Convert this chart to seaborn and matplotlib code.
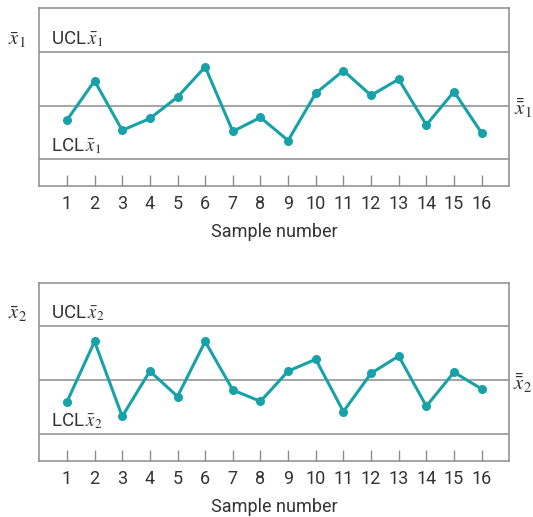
import matplotlib
matplotlib.use("Agg")
import matplotlib.pyplot as plt
import seaborn as sns
import pandas as pd

# Sample numbers and the plotted subgroup means (in units of control-limit width)
samples = list(range(1, 17))
xbar1 = [-0.27, 0.46, -0.46, -0.24, 0.16, 0.72, -0.48, -0.22,
         -0.65, 0.23, 0.65, 0.19, 0.49, -0.36, 0.26, -0.51]
xbar2 = [-0.40, 0.72, -0.67, 0.17, -0.30, 0.72, -0.18, -0.39,
         0.17, 0.39, -0.58, 0.13, 0.45, -0.48, 0.15, -0.16]

# Control limits and center line
ucl = 1.0
center = 0.0
lcl = -1.0

tick_labels = [str(s) for s in samples]
x_title = "Sample number"

sns.set_theme(style="white")
plt.rcParams["font.family"] = ["Roboto", "DejaVu Sans"]
plt.rcParams["mathtext.fontset"] = "stix"

TEAL = "#17a1a8"
GRAY = "#8c8c8c"
TEXT = "#333333"

fig = plt.figure(figsize=(5.33, 5.17), dpi=100)
ax1 = fig.add_axes([0.0737, 0.6408, 0.8818, 0.3432])
ax2 = fig.add_axes([0.0737, 0.1089, 0.8818, 0.3443])

panels = [
    (ax1, xbar1, "1"),
    (ax2, xbar2, "2"),
]

for ax, values, k in panels:
    df = pd.DataFrame({"sample": samples, "mean": values})
    for y in (ucl, center, lcl):
        ax.axhline(y, color=GRAY, lw=1.1, zorder=1)
    sns.lineplot(data=df, x="sample", y="mean", ax=ax, color=TEAL,
                 lw=2.2, marker="o", markersize=6.5, markeredgewidth=0,
                 zorder=3)
    ax.set_xlim(0, 17)
    ax.set_ylim(-1.49, 1.81)
    ax.set_xticks(samples)
    ax.set_xticklabels(tick_labels)
    ax.set_yticks([])
    ax.tick_params(axis="x", direction="in", length=8, width=1.0,
                   color=GRAY, pad=7, labelsize=13, labelcolor=TEXT,
                   bottom=True)
    ax.set_xlabel(x_title, fontsize=13, color=TEXT, labelpad=7)
    ax.set_ylabel("")
    for s in ax.spines.values():
        s.set_color(GRAY)
        s.set_linewidth(1.1)

    ax.text(0.42, ucl + 0.06, rf"UCL$\,\bar{{x}}_{k}$", fontsize=13.5,
            color=TEXT, ha="left", va="bottom")
    ax.text(0.42, lcl + 0.06, rf"LCL$\,\bar{{x}}_{k}$", fontsize=13.5,
            color=TEXT, ha="left", va="bottom")
    ax.text(-0.8, ucl + 0.22, rf"$\bar{{x}}_{k}$", fontsize=15,
            color=TEXT, ha="center", va="center", clip_on=False)
    ax.text(17.48, center - 0.05, rf"$\bar{{\bar{{x}}}}_{k}$", fontsize=15,
            color=TEXT, ha="center", va="center", clip_on=False)

fig.savefig("out.png", dpi=100)
